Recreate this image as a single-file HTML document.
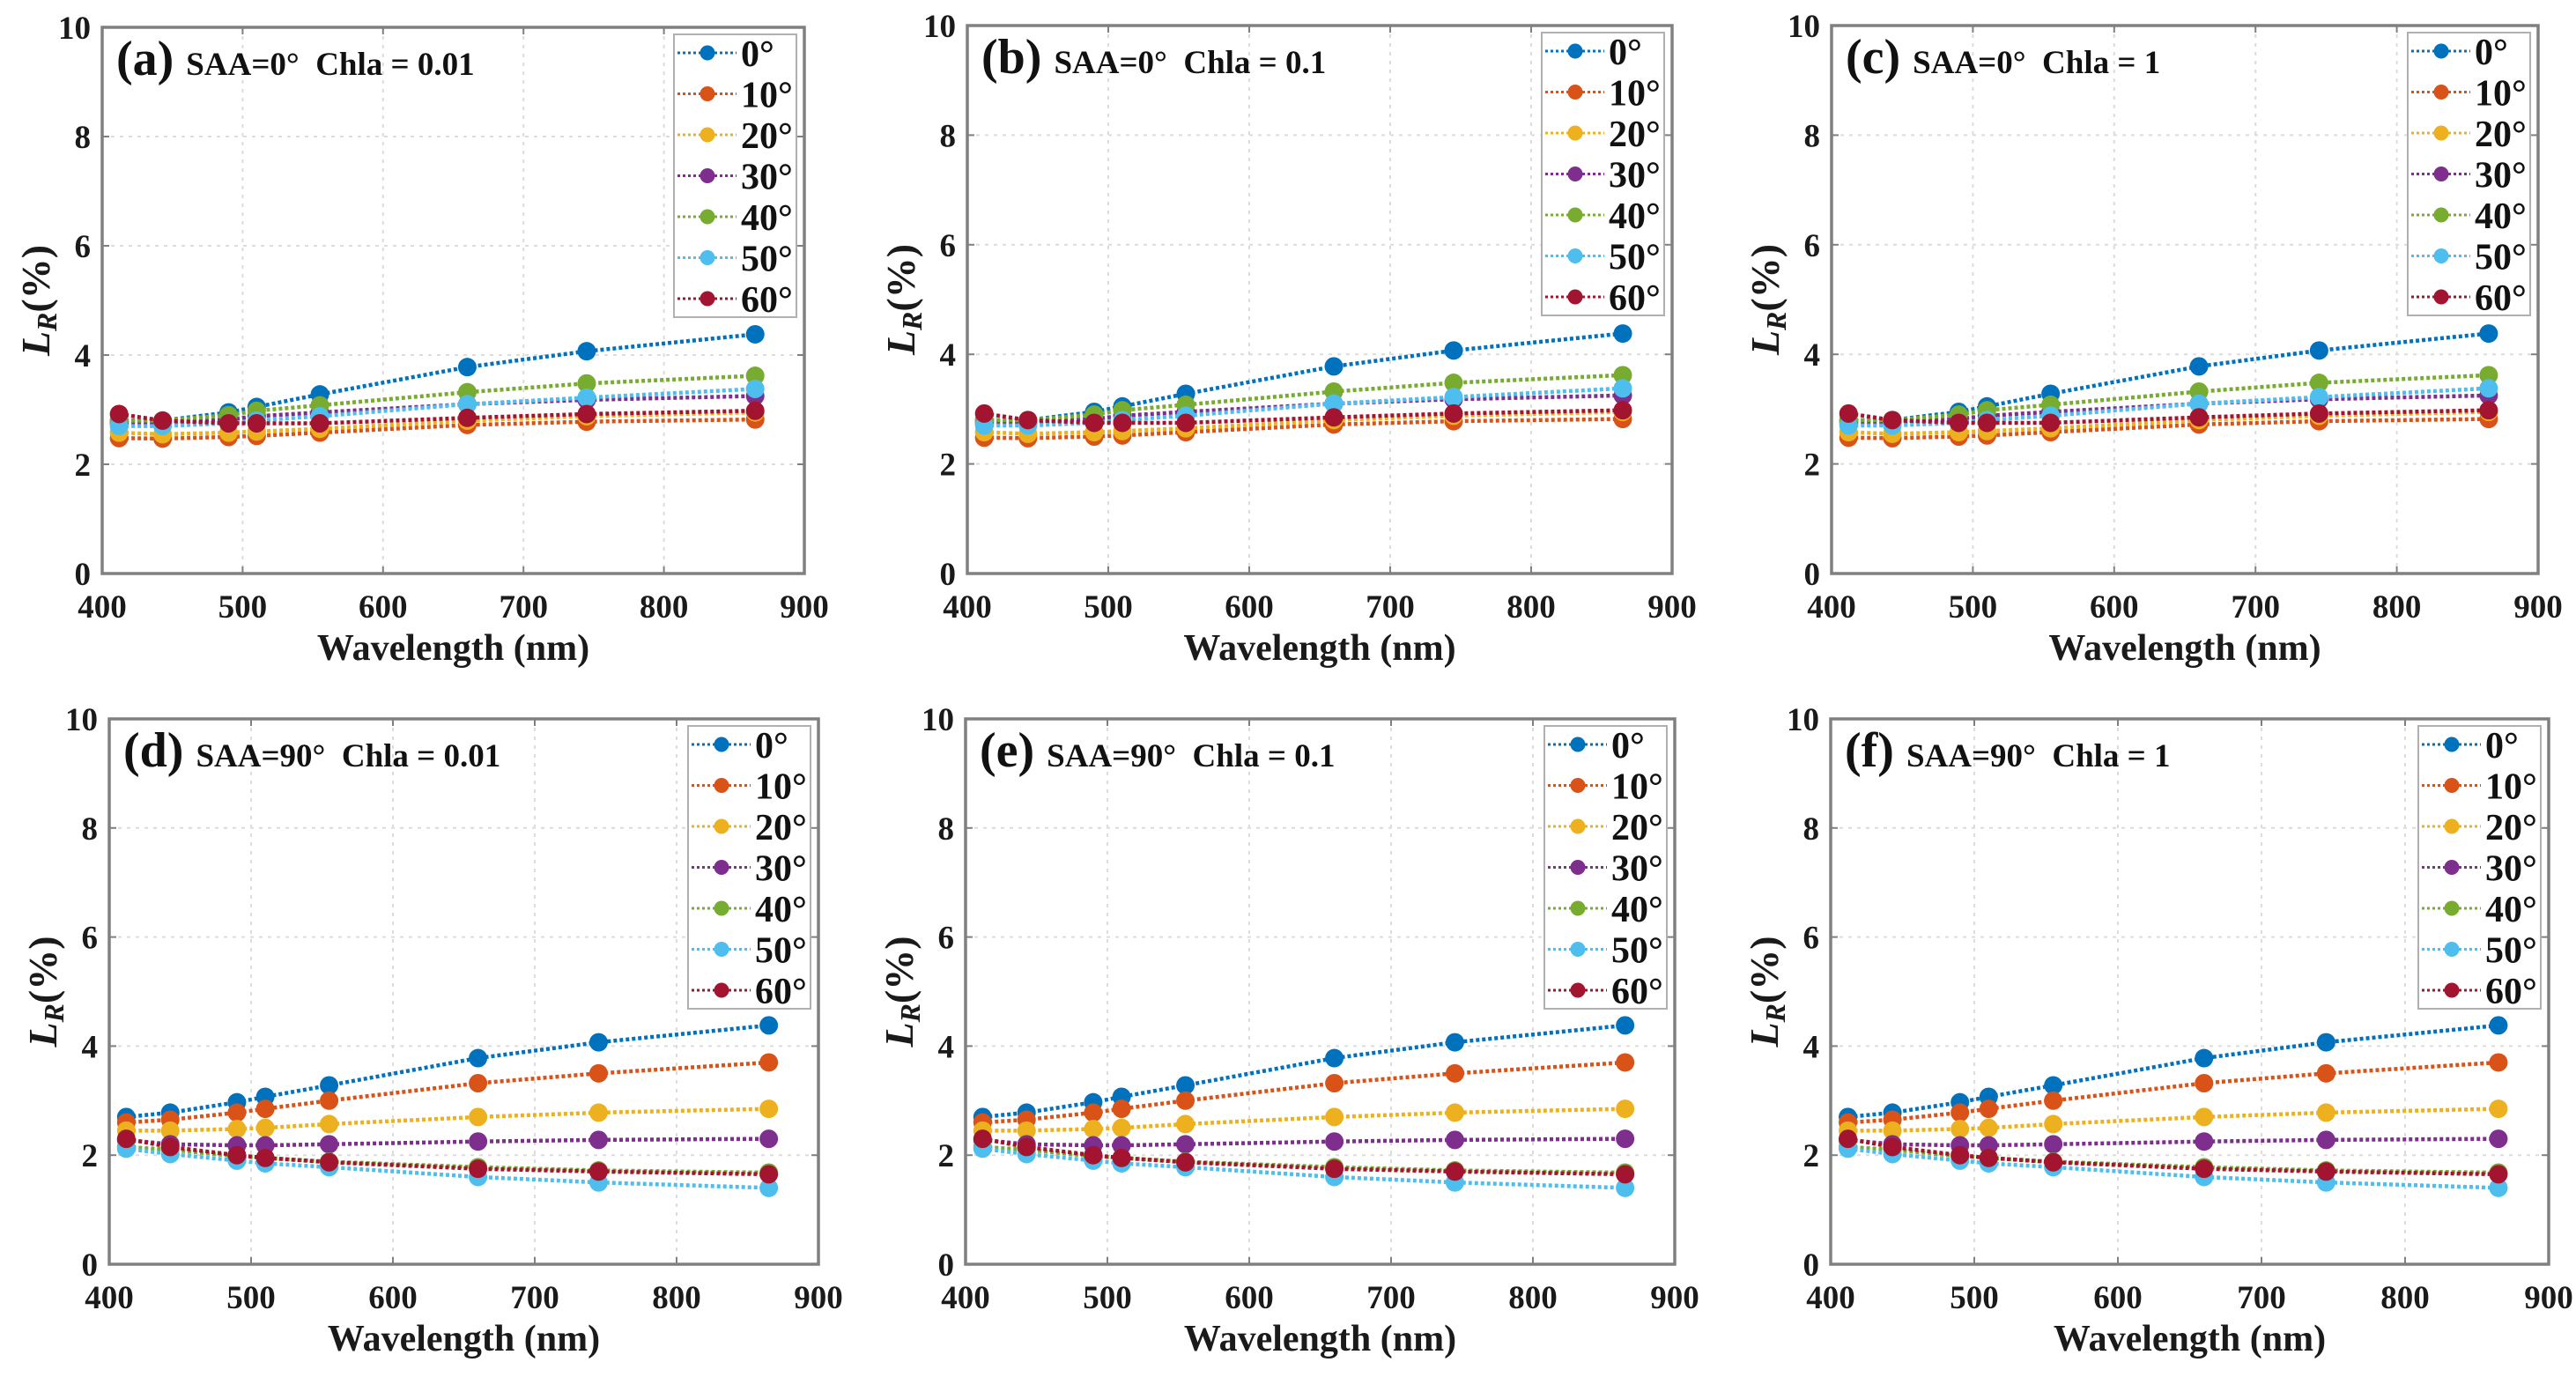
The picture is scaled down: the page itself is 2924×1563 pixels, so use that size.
<!DOCTYPE html>
<html><head><meta charset="utf-8">
<style>
html,body{margin:0;padding:0;background:#fff;}
svg{display:block;font-family:"Liberation Serif","DejaVu Serif",serif;}
</style></head>
<body>
<svg id="fig" width="2924" height="1563" viewBox="0 0 2924 1563" xmlns="http://www.w3.org/2000/svg"></svg>
<script>
const wavelengths=[412,443,490,510,555,660,745,865];
const angleLabels=["0°","10°","20°","30°","40°","50°","60°"];
const colors=["#0072BD","#D95319","#EDB120","#7E2F8E","#77AC30","#4DBEEE","#A2142F"];
const xTicks=[400,500,600,700,800,900];
const yTicks=[0,2,4,6,8,10];
const saa0_s0=[2.80,2.80,2.95,3.05,3.28,3.78,4.07,4.38];
const saa0_s10=[2.48,2.47,2.50,2.52,2.58,2.72,2.78,2.82];
const saa0_s20=[2.58,2.55,2.58,2.60,2.65,2.80,2.88,2.95];
const saa0_s30=[2.75,2.75,2.82,2.88,2.95,3.10,3.18,3.25];
const saa0_s40=[2.80,2.80,2.90,2.98,3.08,3.32,3.48,3.62];
const saa0_s50=[2.70,2.70,2.75,2.80,2.88,3.10,3.22,3.38];
const saa0_s60=[2.92,2.80,2.75,2.75,2.75,2.85,2.92,2.98];
const saa90_s0=[2.70,2.78,2.97,3.07,3.28,3.78,4.07,4.38];
const saa90_s10=[2.60,2.65,2.78,2.85,3.00,3.32,3.50,3.70];
const saa90_s20=[2.45,2.45,2.48,2.50,2.57,2.70,2.78,2.85];
const saa90_s30=[2.28,2.20,2.18,2.18,2.20,2.25,2.28,2.30];
const saa90_s40=[2.15,2.10,1.98,1.95,1.88,1.78,1.72,1.68];
const saa90_s50=[2.12,2.02,1.90,1.85,1.78,1.60,1.50,1.40];
const saa90_s60=[2.30,2.15,2.00,1.95,1.87,1.75,1.70,1.65];
const saa0=[saa0_s0,saa0_s10,saa0_s20,saa0_s30,saa0_s40,saa0_s50,saa0_s60];
const saa90=[saa90_s0,saa90_s10,saa90_s20,saa90_s30,saa90_s40,saa90_s50,saa90_s60];
const panelLetters=["(a)","(b)","(c)","(d)","(e)","(f)"];
const panelSAA=["0°","0°","0°","90°","90°","90°"];
const panelChla=["0.01","0.1","1","0.01","0.1","1"];

const NS="http://www.w3.org/2000/svg";
const FF='"Liberation Serif","DejaVu Serif",serif';
const fig=document.getElementById('fig');
function mk(tag,attrs,parent){const e=document.createElementNS(NS,tag);for(const k in attrs)e.setAttribute(k,attrs[k]);if(tag==='text')e.setAttribute('font-family',FF);(parent||fig).appendChild(e);return e;}

const boxes=[
 [116,31,913,651],[1098,29,1898,651],[2079,29,2881,651],
 [124,816,929,1435],[1096,816,1901,1435],[2078,816,2893,1435]
];
boxes.forEach((b,pi)=>{
  const [L,T,R,B]=b;
  const g=mk('g',{});
  
  
  const xs=v=>L+(v-400)/500*(R-L);
  const ys=v=>B-(v/10)*(B-T);
  xTicks.slice(1,-1).forEach(t=>{const l=mk('line',{x1:xs(t),x2:xs(t),y1:T,y2:B,stroke:'#dcdcdc','stroke-width':2,'stroke-dasharray':'4 6'},g);});
  yTicks.slice(1,-1).forEach(t=>{const l=mk('line',{x1:L,x2:R,y1:ys(t),y2:ys(t),stroke:'#dcdcdc','stroke-width':2,'stroke-dasharray':'4 6'},g);});
  const fr=mk('rect',{x:L,y:T,width:R-L,height:B-T,fill:'none',stroke:'#808080','stroke-width':3.5},g);
  
  xTicks.forEach(t=>{
    mk('line',{x1:xs(t),x2:xs(t),y1:B,y2:B-8,stroke:'#808080','stroke-width':2},g);
    mk('line',{x1:xs(t),x2:xs(t),y1:T,y2:T+8,stroke:'#808080','stroke-width':2},g);
    const tx=mk('text',{x:xs(t),y:B+50,'text-anchor':'middle','font-size':37,'font-weight':'bold',fill:'#1a1a1a'},g);
    tx.textContent=t;
  });
  yTicks.forEach(t=>{
    mk('line',{x1:L,x2:L+8,y1:ys(t),y2:ys(t),stroke:'#808080','stroke-width':2},g);
    mk('line',{x1:R,x2:R-8,y1:ys(t),y2:ys(t),stroke:'#808080','stroke-width':2},g);
    const tx=mk('text',{x:L-13,y:ys(t)+13,'text-anchor':'end','font-size':37,'font-weight':'bold',fill:'#1a1a1a'},g);
    tx.textContent=t;
  });
  const xl=mk('text',{x:(L+R)/2,y:B+98,'text-anchor':'middle','font-size':42,'font-weight':'bold',fill:'#1a1a1a'},g);
  xl.textContent='Wavelength (nm)';
  const cy=(T+B)/2;
  const yx=L-60;
  const yl=mk('text',{x:yx,y:cy,transform:`rotate(-90 ${yx} ${cy})`,'text-anchor':'middle','font-size':46,'font-weight':'bold',fill:'#1a1a1a'},g);
  
  const t1=mk('tspan',{'font-style':'italic'},yl);t1.textContent='L';
  const t2=mk('tspan',{'font-style':'italic','font-size':32,dy:8},yl);t2.textContent='R';
  const t3=mk('tspan',{dy:-8},yl);t3.textContent='(%)';
  const ti=mk('text',{x:L+16,y:T+54,'font-size':37,'font-weight':'bold',fill:'#111'},g);
  
  const a=mk('tspan',{'font-size':56},ti);a.textContent=panelLetters[pi]+' ';
  const bsp=mk('tspan',{},ti);bsp.textContent='SAA='+panelSAA[pi]+'\u00a0 Chla = '+panelChla[pi];
  const data=pi<3?saa0:saa90;
  data.forEach((s,si)=>{
    const pts=wavelengths.map((w,i)=>xs(w)+','+ys(s[i])).join(' ');
    const pl=mk('polyline',{points:pts,fill:'none',stroke:colors[si],'stroke-width':4.5,'stroke-dasharray':'4 3'},g);
    
    wavelengths.forEach((w,i)=>{const c=mk('circle',{cx:xs(w),cy:ys(s[i]),r:10.5,fill:colors[si]},g);
      });
  });
  const lx=R-148, ly=T+8;
  const lg=mk('g',{},g);
  mk('rect',{x:lx,y:ly,width:139,height:321,fill:'#fff',stroke:'#b0b0b0','stroke-width':2},lg);
  angleLabels.forEach((lab,si)=>{
    const yy=ly+21+si*46.5;
    const e=mk('g',{},lg);
    mk('line',{x1:lx+4,x2:lx+71,y1:yy,y2:yy,stroke:colors[si],'stroke-width':3,'stroke-dasharray':'3 3'},e);
    mk('circle',{cx:lx+38,cy:yy,r:8.5,fill:colors[si]},e);
    const tt=mk('text',{x:lx+76,y:yy+15,'font-size':42,'font-weight':'bold',fill:'#111'},e);tt.textContent=lab;
  });
});
</script>
</body></html>
